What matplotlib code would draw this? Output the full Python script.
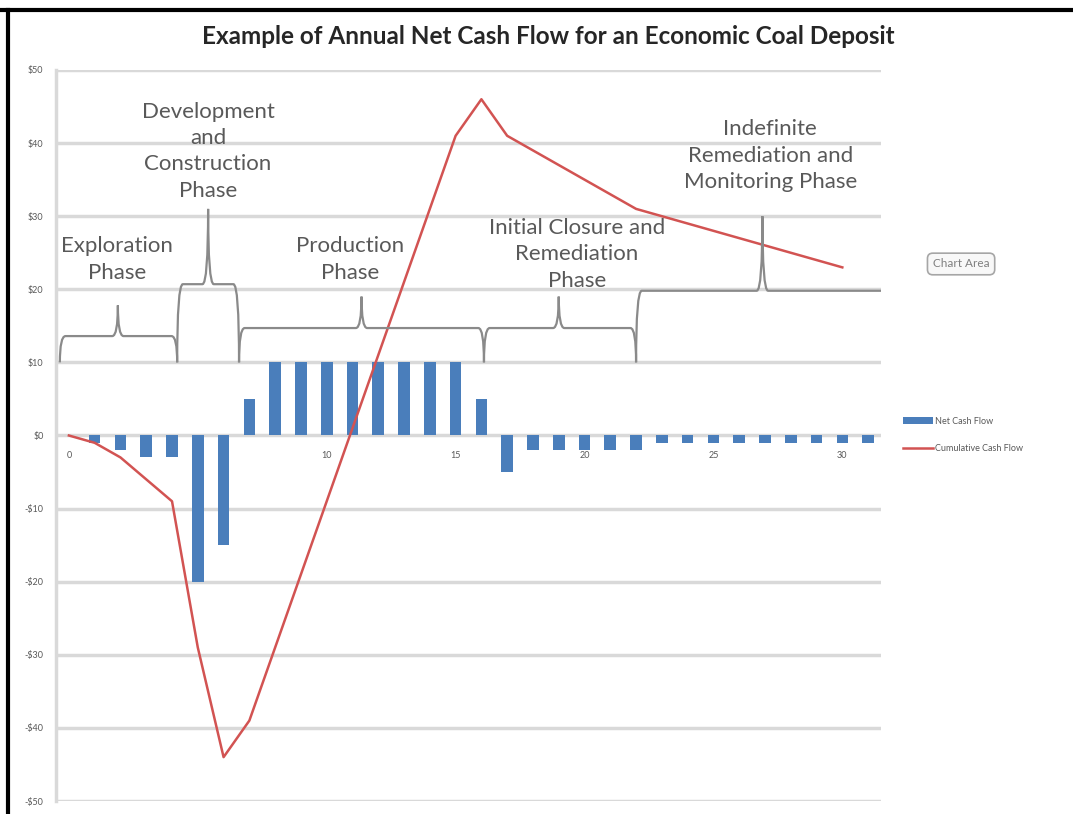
import matplotlib.pyplot as plt
from matplotlib.path import Path
from matplotlib.patches import PathPatch
from matplotlib.lines import Line2D

# Data
years = list(range(1, 32))
net_cash_flow = [-1, -2, -3, -3, -20, -15, 5, 10, 10, 10, 10, 10, 10, 10, 10, 5,
                 -5, -2, -2, -2, -2, -2, -1, -1, -1, -1, -1, -1, -1, -1, -1]
cum_years = list(range(0, 31))
cumulative_cash_flow = [0, -1, -3, -6, -9, -29, -44, -39, -29, -19, -9, 1, 11, 21, 31, 41,
                        46, 41, 39, 37, 35, 33, 31, 30, 29, 28, 27, 26, 25, 24, 23]

y_ticks = [50, 40, 30, 20, 10, 0, -10, -20, -30, -40, -50]
y_tick_labels = ["$50", "$40", "$30", "$20", "$10", "$0", "-$10", "-$20", "-$30", "-$40", "-$50"]
x_ticks = [0, 5, 10, 15, 20, 25, 30]

phase_labels = ["Exploration\nPhase",
                "Development\nand\nConstruction\nPhase",
                "Production\nPhase",
                "Initial Closure and\nRemediation\nPhase",
                "Indefinite\nRemediation and\nMonitoring Phase"]
# brace spans in years: start, end, middle
phase_start = [-0.35, 4.2, 6.6, 16.1, 22.0]
phase_end = [4.2, 6.6, 16.1, 22.0, 31.9]
phase_mid = [1.9, 5.4, 11.35, 19.0, 26.9]

# layout of the braces / labels (in data units)
brace_base = 10
brace_top = [13.6, 20.7, 14.7, 14.7, 19.8]
brace_tip = [17.8, 31, 19, 19, 30]
label_xy = [(1.86, 24.1), (5.4, 38.9), (10.9, 24.1), (19.7, 24.8), (27.2, 38.3)]

BLUE = "#4a7ebb"
RED = "#d25352"
GRID = "#d9d9d9"
TXT = "#595959"

plt.rcParams['font.family'] = ['Lato', 'DejaVu Sans']

fig = plt.figure(figsize=(10.73, 8.14), dpi=100)
ax = fig.add_axes([56 / 1073, 1 - 801 / 814, (881 - 56) / 1073, (801 - 70) / 814])

ax.set_xlim(-0.5, 31.5)
ax.set_ylim(-50, 50)

bars = ax.bar(years, net_cash_flow, width=0.45, color=BLUE, label="Net Cash Flow", zorder=2)
line, = ax.plot(cum_years, cumulative_cash_flow, color=RED, lw=1.8, label="Cumulative Cash Flow", zorder=3)

# axes look
ax.set_yticks(y_ticks)
ax.set_yticklabels(y_tick_labels)
ax.set_xticks(x_ticks)
ax.grid(axis='y', color=GRID, lw=2.5, zorder=0)
ax.set_axisbelow(True)
for s in ["top", "right"]:
    ax.spines[s].set_visible(False)
ax.spines["left"].set_color(GRID)
ax.spines["left"].set_linewidth(2.5)
ax.spines["bottom"].set_position(("data", 0))
ax.spines["bottom"].set_visible(False)
ax.tick_params(axis='y', length=0, pad=9, labelsize=6.5, labelcolor=TXT)
ax.tick_params(axis='x', length=0, pad=11, labelsize=6.5, labelcolor=TXT)


def brace(x0, x1, xm, yb, yt, yp, r=0.22):
    verts = [(x0, yb), (x0, yt), (x0 + r, yt),
             (xm - r, yt),
             (xm, yt), (xm, yp),
             (xm, yt), (xm + r, yt),
             (x1 - r, yt),
             (x1, yt), (x1, yb)]
    codes = [Path.MOVETO, Path.CURVE3, Path.CURVE3,
             Path.LINETO,
             Path.CURVE3, Path.CURVE3,
             Path.CURVE3, Path.CURVE3,
             Path.LINETO,
             Path.CURVE3, Path.CURVE3]
    return Path(verts, codes)


for i, lab in enumerate(phase_labels):
    p = brace(phase_start[i], phase_end[i], phase_mid[i], brace_base, brace_top[i], brace_tip[i])
    ax.add_patch(PathPatch(p, fill=False, edgecolor="#8a8a8a", lw=1.6, zorder=4))
    ax.text(label_xy[i][0], label_xy[i][1], lab, ha="center", va="center",
            fontsize=16, color=TXT, linespacing=1.4, zorder=5)

fig.text(0.511, 0.955, "Example of Annual Net Cash Flow for an Economic Coal Deposit",
         ha="center", va="center", fontsize=17.5, fontweight="bold", color="#262626")

fig.legend([bars, line], ["Net Cash Flow", "Cumulative Cash Flow"],
           loc="center left", bbox_to_anchor=(0.842, 0.466), frameon=False,
           fontsize=6.5, handlelength=3.3, handletextpad=0.2, labelspacing=2.0,
           borderpad=0, borderaxespad=0, labelcolor=TXT)

fig.text(0.8957, 0.6757, "Chart Area", ha="center", va="center", fontsize=8.5, color="#7f7f7f",
         bbox=dict(boxstyle="round,pad=0.45", fc="#f8f8f8", ec="#a6a6a6", lw=1.2))

# black frame lines of the screenshot
fig.add_artist(Line2D([0, 1], [1 - 10 / 814, 1 - 10 / 814], color="black", lw=3))
fig.add_artist(Line2D([8 / 1073, 8 / 1073], [0, 1 - 10 / 814], color="black", lw=3))

fig.savefig("out.png", dpi=100)
